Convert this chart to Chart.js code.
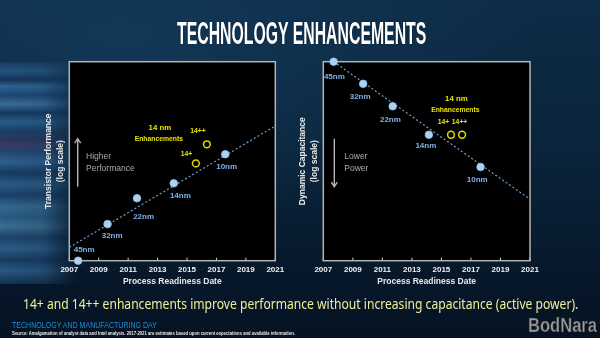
<!DOCTYPE html>
<html>
<head>
<meta charset="utf-8">
<script src="https://cdn.jsdelivr.net/npm/chart.js@4.4.1/dist/chart.umd.min.js"></script>
<style>
  html, body { margin: 0; padding: 0; }
  body {
    width: 600px; height: 338px; overflow: hidden; position: relative;
    background:
      radial-gradient(ellipse 420px 200px at 120px 40px, rgba(30, 80, 120, 0.35), rgba(0, 0, 0, 0)),
      linear-gradient(180deg, #0d2c47 0%, #0a243b 45%, #07182b 80%, #051222 100%);
    font-family: "Liberation Sans", Arial, sans-serif;
  }
  #streaks {
    position: absolute; left: 0; top: 62px; width: 78px; height: 222px;
    background: linear-gradient(180deg,
      #163c62 0%, #24557f 4%, #133457 8%, #2f6592 11%, #1b4672 15%, #3a6d98 19%,
      #15385d 23%, #2a5d8a 27%, #1b4066 31%, #2a3760 35%, #3b3a66 37%, #22456e 40%,
      #2e6090 45%, #163a60 50%, #2b5b86 55%, #1a4068 60%, #35678f 65%, #2a5a80 70%,
      #3d6e92 74%, #1c4469 79%, #2c5d86 84%, #173c61 89%, #2a5883 94%, #12314f 100%);
    -webkit-mask-image: linear-gradient(90deg, #000 0%, rgba(0,0,0,0.85) 55%, rgba(0,0,0,0) 100%);
    mask-image: linear-gradient(90deg, #000 0%, rgba(0,0,0,0.85) 55%, rgba(0,0,0,0) 100%);
  }
  .fit { position: absolute; white-space: nowrap; transform-origin: 0 0; line-height: 1; }
  #title {
    top: 15px; font: bold 32px "Liberation Sans Narrow", "Liberation Sans", sans-serif;
    color: #ffffff; text-shadow: 0 0 2px rgba(0,0,0,0.6);
  }
  #caption { top: 294px; font: 14px "Noto Sans", sans-serif; color: #f2ee9c; }
  #event { top: 320px; left: 12px; font: 8.5px "Liberation Sans", sans-serif; color: #1d8fd6; }
  #source { top: 330px; left: 12px; font: bold 5px "Liberation Sans", sans-serif; color: #e8e8e8; }
  #mark {
    top: 313px; left: 528px; font: bold 21px "Liberation Sans Narrow", sans-serif;
    color: #9c9c9c; -webkit-text-stroke: 0.6px #303030;
  }
  .chart { position: absolute; top: 50px; }
</style>
</head>
<body>
<div id="streaks"></div>
<div id="title" class="fit">TECHNOLOGY ENHANCEMENTS</div>
<canvas id="perfChart" class="chart" width="248" height="237" style="left:42px"></canvas>
<canvas id="capChart" class="chart" width="248" height="237" style="left:296px"></canvas>
<div id="caption" class="fit">14+ and 14++ enhancements improve performance without increasing capacitance (active power).</div>
<div id="event" class="fit">TECHNOLOGY AND MANUFACTURING DAY</div>
<div id="source" class="fit">Source: Amalgamation of analyst data and Intel analysis. 2017-2021 are estimates based upon current expectations and available information.</div>
<div id="mark" class="fit">BodNara</div>
<script>
// x axis ticks (process readiness year)
const yearTicks = [2007, 2009, 2011, 2013, 2015, 2017, 2019, 2021];

// process nodes
const nodeNames = ["45nm", "32nm", "22nm", "14nm", "10nm"];
const enhNames = ["14+", "14++"];

// transistor performance (relative, log scale)
const perfYears = [2007.6, 2009.6, 2011.6, 2014.1, 2017.6];
const perfValues = [0, 18.4, 31.4, 38.9, 53.5];
const perfEnhYears = [2015.6, 2016.35];
const perfEnhValues = [48.9, 58.5];
const perfTrendYears = [2007, 2021];
const perfTrendValues = [6.7, 67.7];

// dynamic capacitance (relative, log scale)
const capYears = [2007.7, 2009.7, 2011.7, 2014.15, 2017.65];
const capValues = [100, 88.9, 77.6, 63.3, 47.1];
const capEnhYears = [2015.65, 2016.4];
const capEnhValues = [63.3, 63.3];
const capTrendYears = [2007.7, 2021];
const capTrendValues = [100, 30.9];

const FONT = "'Liberation Sans', Arial, sans-serif";
const NARROW = "'Liberation Sans Narrow', 'Liberation Sans', sans-serif";
const zip = (xs, ys) => xs.map((x, i) => ({ x: x, y: ys[i] }));

// black plot area with a grey frame and short tick marks on the bottom edge
const plotFrame = {
  id: "plotFrame",
  beforeDatasetsDraw(chart) {
    const { ctx, chartArea: a } = chart;
    const xs = chart.scales.x;
    ctx.save();
    ctx.fillStyle = "#000";
    ctx.fillRect(a.left, a.top, a.width, a.height);
    ctx.strokeStyle = "#d6d6d6";
    ctx.lineWidth = 1;
    xs.ticks.forEach((t) => {
      const px = xs.getPixelForValue(t.value);
      ctx.beginPath();
      ctx.moveTo(px, a.bottom);
      ctx.lineTo(px, a.bottom - 3);
      ctx.stroke();
    });
    ctx.strokeStyle = "#b4b4b4";
    ctx.lineWidth = 1.5;
    ctx.strokeRect(a.left, a.top, a.width, a.height);
    ctx.restore();
  },
};

// text next to each point, offset from the point in pixels
const pointNames = {
  id: "pointNames",
  afterDatasetsDraw(chart) {
    const ctx = chart.ctx;
    chart.data.datasets.forEach((ds, i) => {
      if (!ds.names) return;
      const meta = chart.getDatasetMeta(i);
      ctx.save();
      ctx.font = ds.nameFont;
      ctx.fillStyle = ds.nameColor;
      ctx.textAlign = "center";
      ctx.textBaseline = "middle";
      meta.data.forEach((pt, j) => {
        const off = ds.nameOffsets[j];
        ctx.fillText(ds.names[j], pt.x + off[0], pt.y + off[1]);
      });
      ctx.restore();
    });
  },
};

// "14 nm Enhancements" note and the direction arrow with its caption
const notes = {
  id: "notes",
  afterDatasetsDraw(chart, args, opts) {
    const { ctx, chartArea: a } = chart;
    const enh = chart.getDatasetMeta(2).data[0];
    ctx.save();
    ctx.textAlign = "center";
    ctx.textBaseline = "middle";
    ctx.fillStyle = "#e9e300";
    ctx.font = "bold 7.8px " + FONT;
    ctx.fillText("14 nm", enh.x + opts.noteOffset[0], enh.y + opts.noteOffset[1]);
    ctx.font = "bold 6.8px " + NARROW;
    ctx.fillText("Enhancements", enh.x + opts.noteOffset[0] - 1, enh.y + opts.noteOffset[1] + 11);

    // arrow
    const ax = a.left + opts.arrowX;
    const y1 = a.top + 77, y2 = a.top + 125;
    const tipY = opts.arrowUp ? y1 : y2;
    const dir = opts.arrowUp ? 1 : -1;
    ctx.strokeStyle = "#b4b4b4";
    ctx.lineWidth = 1.4;
    ctx.beginPath();
    ctx.moveTo(ax, y1);
    ctx.lineTo(ax, y2);
    ctx.moveTo(ax - 3, tipY + dir * 4.5);
    ctx.lineTo(ax, tipY);
    ctx.lineTo(ax + 3, tipY + dir * 4.5);
    ctx.stroke();

    ctx.textAlign = "left";
    ctx.fillStyle = "#aaaaaa";
    ctx.font = "8.5px " + FONT;
    ctx.fillText(opts.caption[0], a.left + opts.captionX, a.top + 95);
    ctx.fillText(opts.caption[1], a.left + opts.captionX, a.top + 106.6);
    ctx.restore();
  },
};

function makeChart(id, cfg) {
  return new Chart(document.getElementById(id), {
    type: "scatter",
    data: {
      datasets: [
        {
          data: zip(cfg.nodeYears, cfg.nodeValues),
          names: nodeNames,
          nameOffsets: cfg.nodeOffsets,
          nameFont: "bold 8px " + FONT,
          nameColor: "#7fb1e6",
          backgroundColor: "#a9d2f6",
          borderColor: "#8fc0ee",
          borderWidth: 0.8,
          pointRadius: 3.8,
          clip: false,
          order: 1,
        },
        {
          type: "line",
          data: zip(cfg.trendYears, cfg.trendValues),
          borderColor: "#6f9fcc",
          borderWidth: 1.2,
          borderDash: [2, 2.2],
          pointRadius: 0,
          fill: false,
          order: 3,
        },
        {
          data: zip(cfg.enhYears, cfg.enhValues),
          names: enhNames,
          nameOffsets: cfg.enhOffsets,
          nameFont: "bold 6.8px " + NARROW,
          nameColor: "#e9e300",
          backgroundColor: "rgba(0,0,0,0)",
          borderColor: "#e2dc00",
          borderWidth: 1.5,
          pointRadius: 3.4,
          clip: false,
          order: 2,
        },
      ],
    },
    options: {
      responsive: false,
      animation: false,
      events: [],
      layout: { padding: { top: 11.7, right: cfg.padRight, bottom: 0, left: 0 } },
      plugins: {
        legend: { display: false },
        tooltip: { enabled: false },
        notes: {
          noteOffset: cfg.noteOffset,
          arrowX: cfg.arrowX,
          arrowUp: cfg.arrowUp,
          caption: cfg.caption,
          captionX: cfg.captionX,
        },
      },
      scales: {
        x: {
          type: "linear",
          min: 2007,
          max: 2021,
          grid: { display: false, drawTicks: false },
          border: { display: false },
          afterBuildTicks: (s) => { s.ticks = yearTicks.map((v) => ({ value: v })); },
          afterFit: (s) => { s.height = 26.3; },
          ticks: {
            padding: 4.5,
            color: "#f2f2f2",
            font: { family: FONT, size: 8, weight: "bold" },
            callback: (v) => String(v),
            maxRotation: 0,
          },
          title: {
            display: true,
            text: "Process Readiness Date",
            color: "#e8e8e8",
            padding: 0,
            font: { family: FONT, size: 8.5, weight: "bold", lineHeight: 1.2 },
          },
        },
        y: {
          type: "linear",
          min: 0,
          max: 100,
          grid: { display: false, drawTicks: false },
          border: { display: false },
          ticks: { display: false },
          afterFit: (s) => { s.width = 27.3; },
          title: {
            display: true,
            text: cfg.yTitle,
            color: "#e8e8e8",
            padding: 0,
            font: { family: FONT, size: 8.5, weight: "bold", lineHeight: 1.5 },
          },
        },
      },
    },
    plugins: [plotFrame, pointNames, notes],
  });
}

makeChart("perfChart", {
  nodeYears: perfYears,
  nodeValues: perfValues,
  enhYears: perfEnhYears,
  enhValues: perfEnhValues,
  trendYears: perfTrendYears,
  trendValues: perfTrendValues,
  nodeOffsets: [[6, -10.7], [4.6, 11.7], [6.6, 18.4], [6.6, 12.7], [1.4, 12.4]],
  enhOffsets: [[-9.3, -9.3], [-9, -13.3]],
  noteOffset: [-36, -35.6],
  yTitle: ["Transistor Performance", "(log scale)"],
  arrowX: 8.4,
  arrowUp: true,
  caption: ["Higher", "Performance"],
  captionX: 16.7,
  padRight: 14.7,
});

makeChart("capChart", {
  nodeYears: capYears,
  nodeValues: capValues,
  enhYears: capEnhYears,
  enhValues: capEnhValues,
  trendYears: capTrendYears,
  trendValues: capTrendValues,
  nodeOffsets: [[0.7, 15], [-3, 12.6], [-2.3, 13.4], [-3, 11], [-3.3, 13]],
  enhOffsets: [[-7.5, -12.4], [-2.5, -12.4]],
  noteOffset: [5.3, -35.4],
  yTitle: ["Dynamic Capacitance", "(log scale)"],
  arrowX: 11,
  arrowUp: false,
  caption: ["Lower", "Power"],
  captionX: 21,
  padRight: 14,
});

// squeeze or stretch text blocks to their slide widths
function fitText(id, left, width) {
  const el = document.getElementById(id);
  const w = el.getBoundingClientRect().width;
  el.style.left = left + "px";
  el.style.transform = "scaleX(" + (width / w) + ")";
}
fitText("title", 176.7, 249.3);
fitText("caption", 22.7, 555.3);
fitText("event", 11.7, 145);
fitText("source", 11.7, 283);
fitText("mark", 528, 69);
</script>
</body>
</html>
